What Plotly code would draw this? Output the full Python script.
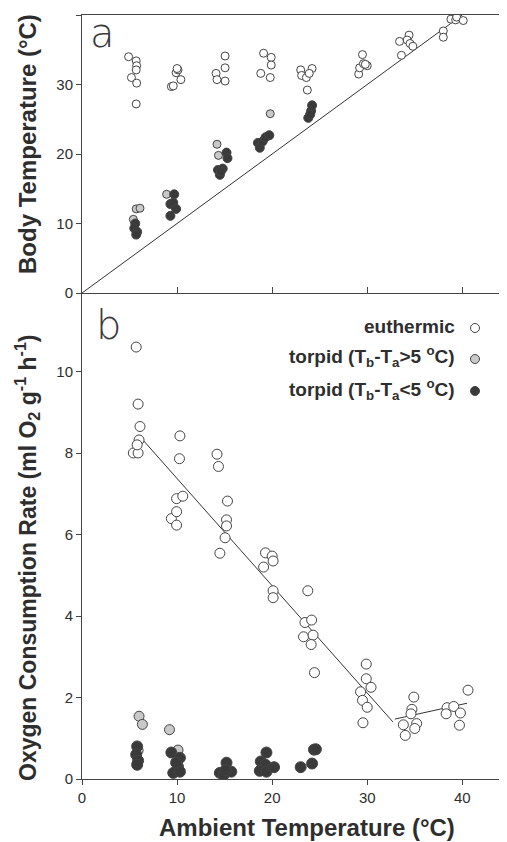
import plotly.graph_objects as go
from plotly.subplots import make_subplots

# ---------------- Panel a: body temperature vs ambient temperature ----------------
a_eu_ta = [4.9, 5.7, 5.75, 5.7, 5.2, 5.75, 5.7,
           9.4, 9.6, 9.9, 10.1, 10.4, 10.0,
           15.05, 15.05, 14.1, 14.2, 15.05,
           19.1, 19.9, 19.9, 18.8, 19.8,
           23.0, 24.2, 23.1, 23.6, 23.9, 23.7,
           29.1, 29.2, 29.5, 29.6, 30.0, 29.8,
           33.4, 33.6, 34.4, 34.2, 34.5, 34.8,
           38.0, 38.0, 38.8, 39.3, 39.4, 40.1]
a_eu_tb = [34.0, 33.4, 32.7, 32.1, 31.0, 30.2, 27.2,
           29.7, 29.8, 31.7, 32.1, 30.7, 32.3,
           34.1, 32.4, 31.6, 30.7, 30.5,
           34.5, 33.9, 32.8, 31.6, 31.0,
           32.1, 32.3, 31.3, 31.0, 31.6, 29.2,
           31.5, 32.4, 34.3, 33.0, 32.7, 32.9,
           36.2, 34.2, 37.1, 36.4, 35.9, 35.5,
           37.7, 36.8, 39.4, 39.3, 39.7, 39.2]

a_tg_ta = [5.7, 6.1, 5.4, 8.9, 14.2, 14.35, 19.8]
a_tg_tb = [12.1, 12.2, 10.6, 14.2, 21.4, 19.8, 25.8]

a_td_ta = [5.6, 5.5, 5.8, 5.7,
           9.7, 9.3, 9.6, 9.9, 9.3,
           15.2, 15.3, 14.3, 14.8, 14.5, 14.6,
           18.5, 18.7, 19.0, 19.3, 19.7,
           23.8, 24.1, 24.2, 24.0]
a_td_tb = [10.0, 9.3, 8.8, 8.4,
           14.2, 12.8, 13.0, 12.1, 11.1,
           20.2, 19.4, 17.7, 17.9, 17.0, 17.5,
           21.6, 20.9, 21.8, 22.4, 22.7,
           25.2, 26.2, 27.0, 25.7]

a_line_x = [0, 40]
a_line_y = [0, 40]

# ---------------- Panel b: oxygen consumption vs ambient temperature ----------------
b_eu_ta = [5.7, 5.9, 6.1, 6.0, 5.4, 5.9, 5.8,
           10.3, 10.25, 9.95, 10.6, 9.4, 9.95, 9.95,
           14.2, 14.35, 15.3, 15.2, 15.2, 15.05, 14.5,
           19.3, 20.0, 20.1, 19.1, 20.1, 20.1,
           23.75, 23.45, 24.15, 23.3, 24.3, 24.1, 24.45,
           29.9, 29.9, 30.4, 29.3, 29.5, 30.0, 29.55,
           34.9, 34.7, 34.6, 33.8, 35.2, 35.0, 34.0,
           40.6, 38.4, 39.1, 38.3, 39.8, 39.7]
b_eu_vo2 = [10.6, 9.2, 8.65, 8.32, 8.0, 8.0, 8.2,
            8.42, 7.86, 6.88, 6.94, 6.39, 6.56, 6.23,
            7.97, 7.67, 6.82, 6.36, 6.21, 5.92, 5.54,
            5.55, 5.47, 5.35, 5.2, 4.62, 4.45,
            4.62, 3.84, 3.9, 3.49, 3.53, 3.3, 2.61,
            2.82, 2.46, 2.25, 2.14, 1.93, 1.76, 1.38,
            2.01, 1.71, 1.6, 1.33, 1.36, 1.24, 1.07,
            2.18, 1.75, 1.78, 1.6, 1.62, 1.32]

b_tg_ta = [6.0, 6.35, 9.2, 5.9, 10.1]
b_tg_vo2 = [1.54, 1.34, 1.21, 0.7, 0.71]

b_td_ta = [5.8, 5.7, 5.9, 5.8,
           9.4, 10.3, 10.1, 9.6, 10.3, 9.9,
           15.2, 14.5, 14.9, 15.7, 15.1,
           19.4, 18.8, 19.3, 18.7, 19.4, 20.2,
           23.0, 24.2, 24.4, 24.6]
b_td_vo2 = [0.8, 0.6, 0.45, 0.35,
            0.65, 0.52, 0.3, 0.15, 0.18, 0.4,
            0.4, 0.15, 0.1, 0.18, 0.22,
            0.65, 0.43, 0.35, 0.2, 0.18, 0.29,
            0.29, 0.38, 0.72, 0.73]

b_fit1_x = [6.1, 32.7]
b_fit1_y = [8.4, 1.4]
b_fit2_x = [32.9, 40.5]
b_fit2_y = [1.47, 1.86]

legend_labels = ["euthermic",
                 "torpid (T<sub>b</sub>-T<sub>a</sub>&gt;5 <sup>o</sup>C)",
                 "torpid (T<sub>b</sub>-T<sub>a</sub>&lt;5 <sup>o</sup>C)"]

x_ticks = [0, 10, 20, 30, 40]
a_y_ticks = [0, 10, 20, 30, 40]
b_y_ticks = [0, 2, 4, 6, 8, 10]

# ---------------- styling ----------------
INK = "#2e2e2e"
OPEN_FILL = "white"
GRAY_FILL = "#c9c9c9"
DARK_FILL = "#3a3a3a"
FONT = "Liberation Sans, Arial, sans-serif"

fig = make_subplots(rows=2, cols=1, shared_xaxes=True, vertical_spacing=0)

def mk(color, size):
    return dict(symbol="circle", size=size, color=color,
                line=dict(color="#444444", width=1))

# panel a
fig.add_trace(go.Scatter(x=a_line_x, y=a_line_y, mode="lines",
                         line=dict(color="#333333", width=1), showlegend=False), row=1, col=1)
fig.add_trace(go.Scatter(x=a_eu_ta, y=a_eu_tb, mode="markers",
                         marker=mk(OPEN_FILL, 8), showlegend=False), row=1, col=1)
fig.add_trace(go.Scatter(x=a_tg_ta, y=a_tg_tb, mode="markers",
                         marker=mk(GRAY_FILL, 8), showlegend=False), row=1, col=1)
fig.add_trace(go.Scatter(x=a_td_ta, y=a_td_tb, mode="markers",
                         marker=mk(DARK_FILL, 9), showlegend=False), row=1, col=1)

# panel b
fig.add_trace(go.Scatter(x=b_fit1_x, y=b_fit1_y, mode="lines",
                         line=dict(color="#333333", width=1), showlegend=False), row=2, col=1)
fig.add_trace(go.Scatter(x=b_fit2_x, y=b_fit2_y, mode="lines",
                         line=dict(color="#333333", width=1), showlegend=False), row=2, col=1)
fig.add_trace(go.Scatter(x=b_eu_ta, y=b_eu_vo2, mode="markers",
                         marker=mk(OPEN_FILL, 10), showlegend=False), row=2, col=1)
fig.add_trace(go.Scatter(x=b_tg_ta, y=b_tg_vo2, mode="markers",
                         marker=mk(GRAY_FILL, 10), showlegend=False), row=2, col=1)
fig.add_trace(go.Scatter(x=b_td_ta, y=b_td_vo2, mode="markers",
                         marker=mk(DARK_FILL, 11), showlegend=False), row=2, col=1)

# geometry (window pixels); page body has an 8px margin
OFF = 8
WIN_W, WIN_H = 507, 842
W, H = WIN_W - OFF, WIN_H - OFF
AX_LEFT, AX_TOP, AX_BOTTOM, AX_RIGHT = 82, 15, 779, 507
L = AX_LEFT - OFF
T = AX_TOP - OFF
B = WIN_H - AX_BOTTOM
R = WIN_W - AX_RIGHT
plot_w = AX_RIGHT - AX_LEFT
plot_h = AX_BOTTOM - AX_TOP
split_px = 293  # boundary between panels
split = (AX_BOTTOM - split_px) / plot_h

def px_x(px):
    return (px - AX_LEFT) / plot_w

def px_y(py):
    return (AX_BOTTOM - py) / plot_h

axis_common = dict(showgrid=False, zeroline=False, showline=True,
                   linecolor="#444444", linewidth=1,
                   tickfont=dict(family=FONT, size=15, color=INK),
                   tickcolor="#444444")

fig.update_layout(
    width=W, height=H,
    margin=dict(l=L, r=R, t=T, b=B, autoexpand=False),
    plot_bgcolor="white", paper_bgcolor="white",
    showlegend=False,
    xaxis=dict(range=[0, 44.7], tickvals=x_ticks, ticks="inside", ticklen=6,
               showticklabels=False, mirror=True, **axis_common),
    xaxis2=dict(range=[0, 44.7], tickvals=x_ticks, ticktext=[str(v) for v in x_ticks],
                ticks="outside", ticklen=5, showticklabels=True, **axis_common),
    yaxis=dict(domain=[split, 1], range=[0, 40], tickvals=a_y_ticks,
               ticks="outside", ticklen=5, **axis_common),
    yaxis2=dict(domain=[0, split], range=[0, (AX_BOTTOM - split_px) / 40.75],
                tickvals=b_y_ticks, ticks="outside", ticklen=5, **axis_common),
)

ann = []
title_font = dict(family=FONT, size=24, color=INK, weight="bold")
ann.append(dict(text="Body Temperature (°C)", xref="paper", yref="paper",
                x=px_x(27), y=px_y(144), textangle=-90, showarrow=False,
                font=title_font, xanchor="center", yanchor="middle"))
ann.append(dict(text="Oxygen Consumption Rate (ml O<sub>2</sub> g<sup>-1</sup> h<sup>-1</sup>)",
                xref="paper", yref="paper",
                x=px_x(27), y=px_y(558), textangle=-90, showarrow=False,
                font=dict(family=FONT, size=23, color=INK, weight="bold"),
                xanchor="center", yanchor="middle"))
ann.append(dict(text="Ambient Temperature (°C)", xref="paper", yref="paper",
                x=px_x(307), y=px_y(827), showarrow=False,
                font=title_font, xanchor="center", yanchor="middle"))
label_font = dict(family="DejaVu Sans, sans-serif", size=40, color="#3a3a3a", weight=200)
ann.append(dict(text="a", xref="paper", yref="paper", x=px_x(102), y=px_y(33),
                showarrow=False, xanchor="center", yanchor="middle", font=label_font))
ann.append(dict(text="b", xref="paper", yref="paper", x=px_x(108), y=px_y(325),
                showarrow=False, xanchor="center", yanchor="middle", font=label_font))

leg_rows_y = [326, 357, 389]
leg_fills = [OPEN_FILL, GRAY_FILL, DARK_FILL]
shapes = []
for lab, ly, fc in zip(legend_labels, leg_rows_y, leg_fills):
    ann.append(dict(text=lab, xref="paper", yref="paper", x=px_x(457), y=px_y(ly),
                    showarrow=False, xanchor="right", yanchor="middle",
                    font=dict(family=FONT, size=19, color=INK, weight="bold")))
    shapes.append(dict(type="circle", xref="paper", yref="paper",
                       xsizemode="pixel", ysizemode="pixel",
                       xanchor=px_x(475), yanchor=px_y(ly + 2),
                       x0=-4.5, x1=4.5, y0=-4.5, y1=4.5,
                       fillcolor=fc, line=dict(color="#444444", width=1)))

fig.update_layout(annotations=ann, shapes=shapes)

fig.write_html("out.html")
